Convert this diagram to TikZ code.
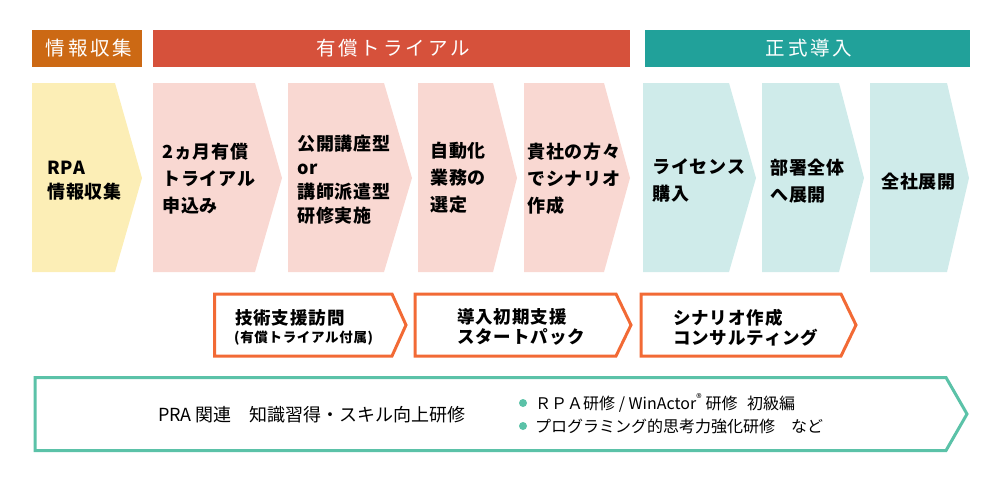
\documentclass[tikz,border=0pt]{standalone}
\usepackage{fontspec}
\setmainfont{Noto Sans CJK JP}
\newfontfamily\hdfont{Noto Sans CJK JP}[LetterSpace=15]
\newfontfamily\stfont{Noto Sans CJK JP}[LetterSpace=5]
\usepackage{tikz}

\definecolor{hdorange}{HTML}{CC6914}
\definecolor{hdred}{HTML}{D6513B}
\definecolor{hdteal}{HTML}{21A19A}
\definecolor{stepY}{HTML}{FCEEB6}
\definecolor{stepP}{HTML}{F9D8D2}
\definecolor{stepT}{HTML}{CFEBEA}
\definecolor{boxorange}{HTML}{F26A35}
\definecolor{lineteal}{HTML}{5BC2A8}

\tikzset{
  hdtext/.style={text=white, inner sep=0pt, font=\hdfont\fontsize{19.5}{23}\selectfont},
  steptext/.style={anchor=west, align=left, inner sep=0pt, font=\stfont\bfseries\fontsize{18}{27}\selectfont},
  steptight/.style={steptext, font=\stfont\bfseries\fontsize{18}{24}\selectfont},
  boxtext/.style={anchor=west, align=left, inner sep=0pt, font=\stfont\bfseries\fontsize{17.5}{20}\selectfont},
  notetext/.style={anchor=west, inner sep=0pt, font=\fontsize{16}{20}\selectfont},
}

\begin{document}
\begin{tikzpicture}[x=1pt,y=-1pt]
  \useasboundingbox (0,0) rectangle (1000,490);
  % phase bars
  \fill[hdorange] (32,30) rectangle (142,67);
  \fill[hdred] (153,30) rectangle (630,67);
  \fill[hdteal] (645,30) rectangle (970,67);
  \node[hdtext] (hinfo) at (89,48.5) {情報収集};
  \node[hdtext] (htrial) at (393,48.5) {有償トライアル};
  \node[hdtext] (hformal) at (809,48.5) {正式導入};
  % steps
  \foreach \xl/\xr/\xt/\col in {32/115/142/stepY, 153/255/282/stepP, 288/384/412/stepP,
      418/493/517/stepP, 524/604/630/stepP, 643/729/756/stepT, 762/839/864/stepT, 870/947/969/stepT}{
    \fill[\col] (\xl,83) -- (\xr,83) -- (\xt,178) -- (\xr,272) -- (\xl,272) -- cycle;
  }
  \node[steptight] (sinfo) at (47,181) {RPA\\情報収集};
  \node[steptext] (sapply) at (162,178.5) {2ヵ月有償\\トライアル\\申込み};
  \node[steptight] (strain) at (297,179.5) {公開講座型\\or\\講師派遣型\\研修実施};
  \node[steptext] (sselect) at (430,178) {自動化\\業務の\\選定};
  \node[steptext] (sscen) at (527,178.5) {貴社の方々\\でシナリオ\\作成};
  \node[steptext] (slicense) at (652,180) {ライセンス\\購入};
  \node[steptext] (sdept) at (770,181) {部署全体\\へ展開};
  \node[steptext] (sall) at (881,182) {全社展開};
  % support boxes
  \foreach \xl/\xr/\xt in {214.5/392/406, 415/616/631, 641/841/856}{
    \draw[boxorange, line width=3pt] (\xl,294) -- (\xr,294) -- (\xt,325) -- (\xr,356) -- (\xl,356) -- cycle;
  }
  \node[boxtext] (bvisit) at (235,318) {技術支援訪問};
  \node[boxtext, font=\stfont\bfseries\fontsize{13.5}{15}\selectfont] (bvisitsub) at (234,338.5) {(有償トライアル付属)};
  \node[boxtext] (bpack) at (457,327) {導入初期支援\\スタートパック};
  \node[boxtext] (bconsult) at (673,327.5) {シナリオ作成\\コンサルティング};
  % training
  \draw[lineteal, line width=3pt] (35,377.5) -- (946,377.5) -- (967,414) -- (946,450.5) -- (35,450.5) -- cycle;
  \node[notetext, font=\fontsize{18}{20}\selectfont] (ntitle) at (158,415) {PRA 関連　知識習得・スキル向上研修};
  \fill[lineteal] (523,403) circle (4pt);
  \fill[lineteal] (523,426) circle (4pt);
  \node[notetext] (nrpa) at (535,403) {ＲＰＡ研修 / WinActor\textsuperscript{®} 研修\hspace{0.6em}初級編};
  \node[notetext] (nprog) at (535,426) {プログラミング的思考力強化研修　など};
\end{tikzpicture}
\end{document}
